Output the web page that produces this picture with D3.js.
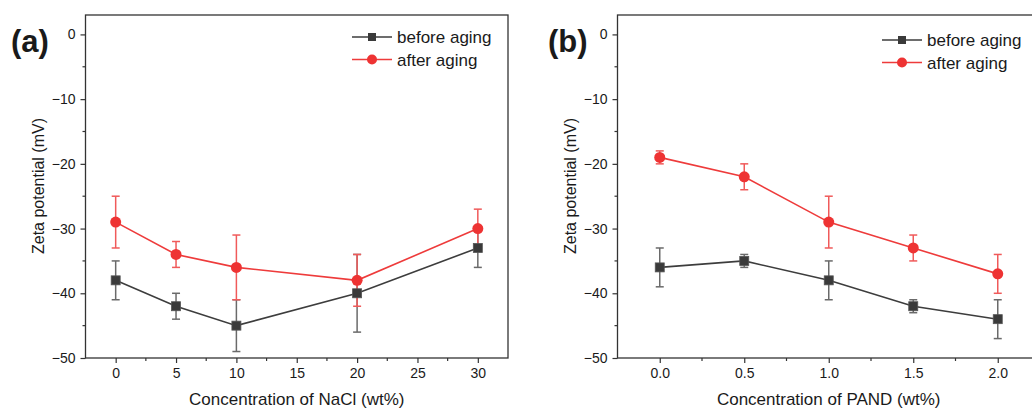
<!DOCTYPE html>
<html>
<head>
<meta charset="utf-8">
<script src="https://cdn.jsdelivr.net/npm/d3@7"></script>
<style>
  body { margin: 0; background: #fff; }
  text { font-family: Arial, "Liberation Sans", sans-serif; fill: #1a1a1a; }
</style>
</head>
<body>
<div id="chart"></div>
<script>
// panel (a): NaCl
var nacl = [0, 5, 10, 20, 30];
var naclBefore = [-38, -42, -45, -40, -33];
var naclBeforeErr = [3, 2, 4, 6, 3];
var naclAfter = [-29, -34, -36, -38, -30];
var naclAfterErr = [4, 2, 5, 4, 3];
var naclTicks = [0, 5, 10, 15, 20, 25, 30];

// panel (b): PAND
var pand = [0, 0.5, 1.0, 1.5, 2.0];
var pandBefore = [-36, -35, -38, -42, -44];
var pandBeforeErr = [3, 1, 3, 1, 3];
var pandAfter = [-19, -22, -29, -33, -37];
var pandAfterErr = [1, 2, 4, 2, 3];
var pandTicks = [0, 0.5, 1.0, 1.5, 2.0];

var yTicks = [0, -10, -20, -30, -40, -50];
var seriesNames = ["before aging", "after aging"];

var grayLine = "#3d3d3d", grayErr = "#6a6a6a";
var redLine = "#ee3b3b", redErr = "#f05a5a";

var svg = d3.select("#chart").append("svg")
  .attr("width", 1032)
  .attr("height", 410);

function panel(opt) {
  var x = d3.scaleLinear().domain(opt.xDomain).range([opt.left, opt.right]);
  var y = d3.scaleLinear().domain([-50, 3]).range([358, 15]);
  var g = svg.append("g");

  // frame
  g.append("rect")
    .attr("x", opt.left).attr("y", 15)
    .attr("width", opt.right - opt.left).attr("height", 343)
    .attr("fill", "none").attr("stroke", "#333").attr("stroke-width", 1.3);

  // x axis
  var xAx = g.append("g").attr("transform", "translate(0,358)")
    .call(d3.axisBottom(x).tickValues(opt.xTicks).tickSize(5).tickPadding(5)
      .tickFormat(opt.fmt));
  xAx.select(".domain").remove();
  xAx.selectAll("text").style("font-size", "14px").attr("fill", "#1a1a1a");
  xAx.selectAll("line").attr("stroke", "#333").attr("stroke-width", 1.2);
  var minorX = d3.range(opt.xTicks[0] + opt.xStep / 2, opt.xTicks[opt.xTicks.length - 1], opt.xStep);
  g.selectAll(".mx").data(minorX).enter().append("line")
    .attr("x1", d => x(d)).attr("x2", d => x(d))
    .attr("y1", 358).attr("y2", 361)
    .attr("stroke", "#333").attr("stroke-width", 1.2);

  // y axis
  var yAx = g.append("g").attr("transform", "translate(" + opt.left + ",0)")
    .call(d3.axisLeft(y).tickValues(yTicks).tickSize(5).tickPadding(5));
  yAx.select(".domain").remove();
  yAx.selectAll("text").style("font-size", "14px").attr("fill", "#1a1a1a");
  yAx.selectAll("line").attr("stroke", "#333").attr("stroke-width", 1.2);
  g.selectAll(".my").data([-5, -15, -25, -35, -45]).enter().append("line")
    .attr("x1", opt.left - 3).attr("x2", opt.left)
    .attr("y1", d => y(d)).attr("y2", d => y(d))
    .attr("stroke", "#333").attr("stroke-width", 1.2);

  // titles
  g.append("text").attr("x", (opt.left + opt.titleRight) / 2).attr("y", 405)
    .attr("text-anchor", "middle").style("font-size", "17px").text(opt.xTitle);
  g.append("text").attr("transform", "translate(" + (opt.left - 42) + ",186) rotate(-90)")
    .attr("text-anchor", "middle").style("font-size", "16px").text("Zeta potential (mV)");
  g.append("text").attr("x", opt.labelX).attr("y", 52)
    .style("font-size", "31px").style("font-weight", "bold").attr("fill", "#111").text(opt.label);

  var series = [
    {xs: opt.xs, ys: opt.before, err: opt.beforeErr, line: grayLine, errC: grayErr, shape: "square"},
    {xs: opt.xs, ys: opt.after, err: opt.afterErr, line: redLine, errC: redErr, shape: "circle"}
  ];

  series.forEach(function(s) {
    var pts = s.xs.map((v, i) => ({x: v, y: s.ys[i], e: s.err[i]}));
    var sg = g.append("g");
    sg.append("path").datum(pts)
      .attr("fill", "none").attr("stroke", s.line).attr("stroke-width", 1.6)
      .attr("d", d3.line().x(d => x(d.x)).y(d => y(d.y)));
    var eb = sg.selectAll(".eb").data(pts).enter().append("g");
    eb.append("line")
      .attr("x1", d => x(d.x)).attr("x2", d => x(d.x))
      .attr("y1", d => y(d.y + d.e)).attr("y2", d => y(d.y - d.e))
      .attr("stroke", s.errC).attr("stroke-width", 1.5);
    [1, -1].forEach(function(sign) {
      eb.append("line")
        .attr("x1", d => x(d.x) - 4).attr("x2", d => x(d.x) + 4)
        .attr("y1", d => y(d.y + sign * d.e)).attr("y2", d => y(d.y + sign * d.e))
        .attr("stroke", s.errC).attr("stroke-width", 1.5);
    });
  });

  series.forEach(function(s) {
    var pts = s.xs.map((v, i) => ({x: v, y: s.ys[i]}));
    if (s.shape === "square") {
      g.selectAll(".sq").data(pts).enter().append("rect")
        .attr("x", d => x(d.x) - 4.5).attr("y", d => y(d.y) - 4.5)
        .attr("width", 9).attr("height", 9)
        .attr("fill", "#3a3a3a").attr("stroke", "#555").attr("stroke-width", 0.8);
    } else {
      g.selectAll(".ci").data(pts).enter().append("circle")
        .attr("cx", d => x(d.x)).attr("cy", d => y(d.y)).attr("r", 5.5)
        .attr("fill", "#ee3333");
    }
  });

  // legend
  var lg = g.append("g").attr("transform", "translate(" + opt.legX + "," + opt.legY + ")");
  seriesNames.forEach(function(name, i) {
    var s = series[i];
    var row = lg.append("g").attr("transform", "translate(0," + (i * 22.5) + ")");
    row.append("line").attr("x1", 0).attr("x2", 40).attr("y1", 0).attr("y2", 0)
      .attr("stroke", s.line).attr("stroke-width", 1.6);
    if (s.shape === "square") {
      row.append("rect").attr("x", 16).attr("y", -4).attr("width", 8).attr("height", 8)
        .attr("fill", "#3a3a3a");
    } else {
      row.append("circle").attr("cx", 20).attr("cy", 0).attr("r", 5).attr("fill", "#ee3333");
    }
    row.append("text").attr("x", 45).attr("y", 6).style("font-size", "17px").text(name);
  });
}

panel({
  xDomain: [-2.5, 32.5], left: 85.5, right: 508, titleRight: 508,
  xTicks: naclTicks, xStep: 5, fmt: d3.format("d"),
  xs: nacl, before: naclBefore, beforeErr: naclBeforeErr, after: naclAfter, afterErr: naclAfterErr,
  xTitle: "Concentration of NaCl (wt%)", label: "(a)", labelX: 11,
  legX: 352, legY: 37
});

panel({
  xDomain: [-0.25, 2.25], left: 617.5, right: 1040, titleRight: 1040,
  xTicks: pandTicks, xStep: 0.5, fmt: d3.format(".1f"),
  xs: pand, before: pandBefore, beforeErr: pandBeforeErr, after: pandAfter, afterErr: pandAfterErr,
  xTitle: "Concentration of PAND (wt%)", label: "(b)", labelX: 548,
  legX: 882, legY: 40
});
</script>
</body>
</html>
